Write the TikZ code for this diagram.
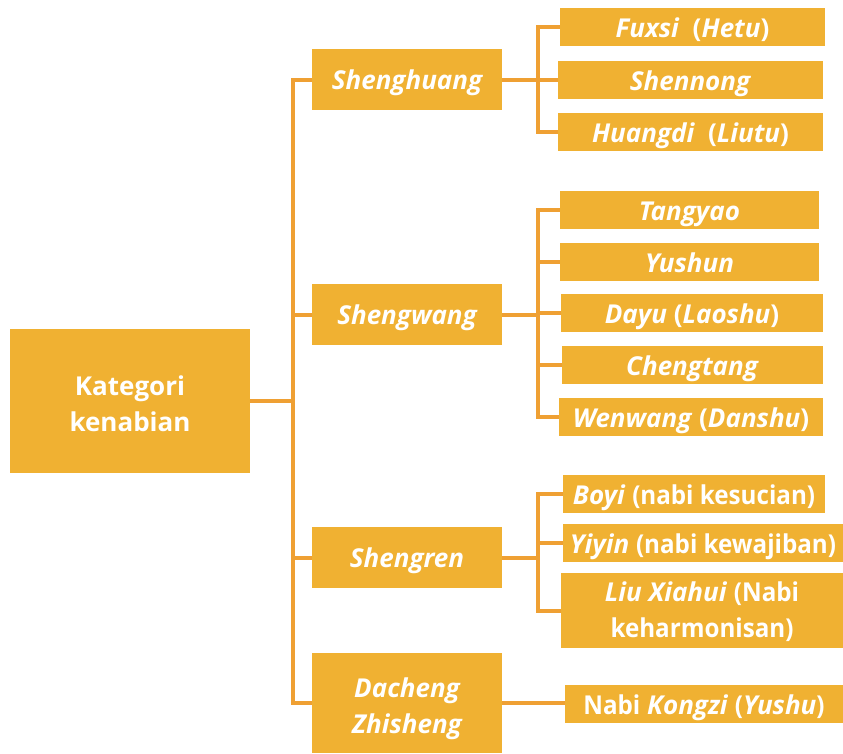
\documentclass[tikz,border=0pt]{standalone}
\usepackage{fontspec}
\setmainfont{Open Sans}
\definecolor{boxc}{HTML}{F0B132}
\definecolor{linec}{HTML}{EFA033}
\newcommand{\nrw}[1]{{\addfontfeatures{FakeStretch=0.93}#1}}
\tikzset{
  box/.style={fill=boxc, text=white, inner sep=0pt, align=center,
    font=\fontsize{26}{36}\selectfont\bfseries, text depth=0pt},
  one/.style={text height=20pt},
  lbox/.style={box, one, minimum height=38pt},
  conn/.style={draw=linec, line width=4pt}
}
\begin{document}
\begin{tikzpicture}[x=1pt,y=-1pt]
\useasboundingbox (0,0) rectangle (843,753);
% root
\node[box, text height=60pt, minimum width=240pt, minimum height=144pt] (root) at (130,401) {Kategori\\kenabian};
% level 1
\node[box, one, minimum width=190pt, minimum height=61pt] (sh) at (407,79.5) {\itshape Shenghuang};
\node[box, one, minimum width=190pt, minimum height=61pt] (sw) at (407,314.5) {\itshape Shengwang};
\node[box, one, minimum width=190pt, minimum height=61pt] (sr) at (407,557.5) {\itshape Shengren};
\node[box, text height=60pt, minimum width=190pt, minimum height=100pt] (dz) at (407,703) {\itshape Dacheng\\\itshape Zhisheng};
% level 2
\node[lbox, minimum width=265pt] (fuxsi) at (692.5,27) {\textit{Fuxsi}\hspace{0.25em} (\textit{Hetu})};
\node[lbox, minimum width=265pt] (shennong) at (690.5,80) {\textit{Shennong}};
\node[lbox, minimum width=265pt] (huangdi) at (690.5,132) {\textit{Huangdi}\hspace{0.25em} (\textit{Liutu})};
\node[lbox, minimum width=259pt] (tangyao) at (689.5,210) {\textit{Tangyao}};
\node[lbox, minimum width=259pt] (yushun) at (689.5,262) {\textit{Yushun}};
\node[lbox, minimum width=262pt] (dayu) at (692,313) {\textit{Dayu} (\textit{Laoshu})};
\node[lbox, minimum width=261pt] (chengtang) at (692.5,365) {\textit{Chengtang}};
\node[lbox, minimum width=264pt] (wenwang) at (691,417) {\textit{Wenwang} (\textit{Danshu})};
\node[lbox, minimum width=262pt] (boyi) at (694,494) {\textit{Boyi} \nrw{(nabi kesucian)}};
\node[lbox, minimum width=280pt] (yiyin) at (703,543) {\textit{Yiyin} \nrw{(nabi kewajiban)}};
\node[box, text height=53pt, minimum width=282pt, minimum height=75pt] (liu) at (702,610.5) {\textit{Liu Xiahui} \nrw{(Nabi}\\\nrw{keharmonisan)}};
\node[lbox, minimum width=278pt] (kongzi) at (704,704) {\nrw{Nabi} \textit{Kongzi} \nrw{(}\textit{Yushu}\nrw{)}};
% trunk coordinates
\coordinate (T) at (293,0);
\coordinate (U) at (538,0);
% level 0 -> 1
\draw[conn] (root.east) -- (root.east -| T);
\draw[conn] (sh.west) -- (sh.west -| T) -- (dz.west -| T) -- (dz.west);
\draw[conn] (sw.west) -- (sw.west -| T);
\draw[conn] (sr.west) -- (sr.west -| T);
% Shenghuang
\draw[conn] (sh.east) -- (sh.east -| U);
\draw[conn] (fuxsi.west) -- (fuxsi.west -| U) -- (huangdi.west -| U) -- (huangdi.west);
\draw[conn] (shennong.west) -- (shennong.west -| U);
% Shengwang
\draw[conn] (sw.east) -- (sw.east -| U);
\draw[conn] (tangyao.west) -- (tangyao.west -| U) -- (wenwang.west -| U) -- (wenwang.west);
\draw[conn] (yushun.west) -- (yushun.west -| U);
\draw[conn] (dayu.west) -- (dayu.west -| U);
\draw[conn] (chengtang.west) -- (chengtang.west -| U);
% Shengren
\draw[conn] (sr.east) -- (sr.east -| U);
\draw[conn] (boyi.west) -- (boyi.west -| U) -- (liu.west -| U) -- (liu.west);
\draw[conn] (yiyin.west) -- (yiyin.west -| U);
% Dacheng Zhisheng
\draw[conn] (dz.east) -- (dz.east -| kongzi.west);
\end{tikzpicture}
\end{document}
